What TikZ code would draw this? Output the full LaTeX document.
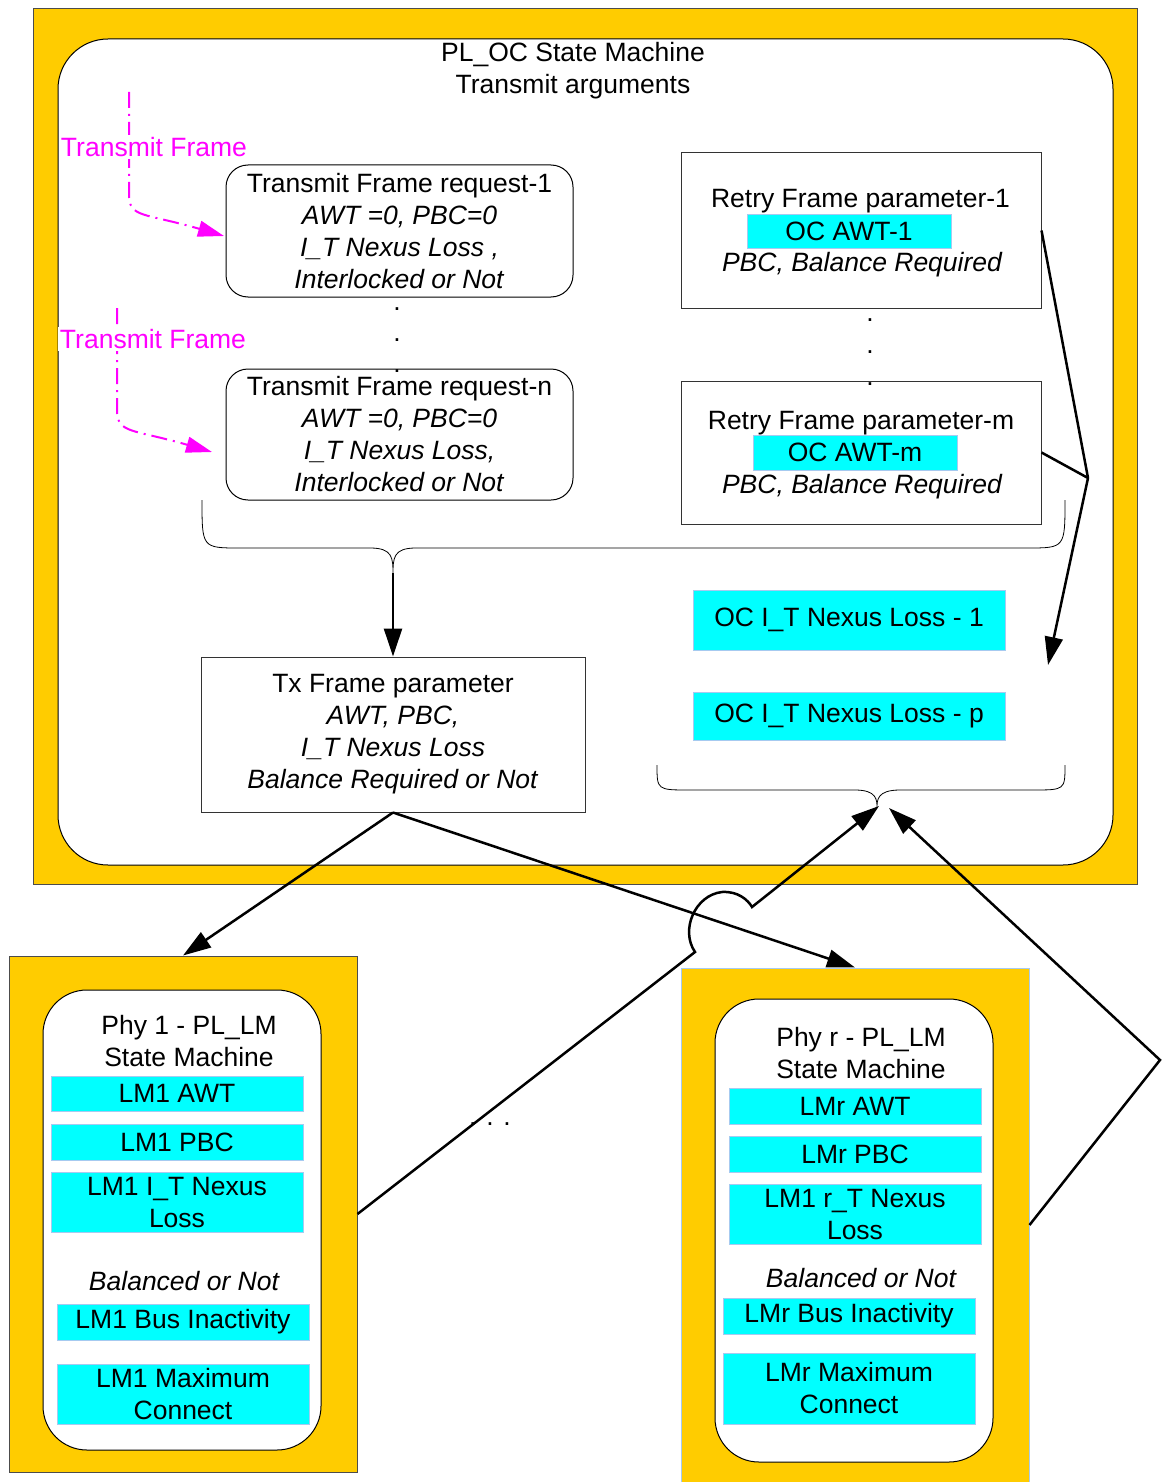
\documentclass[tikz,border=0pt]{standalone}
\usepackage{fontspec}
\setmainfont{Liberation Sans}
\usepackage{xcolor}
\usetikzlibrary{arrows.meta}
\definecolor{ocyellow}{HTML}{FFCC00}
\definecolor{occyan}{HTML}{00FFFF}
\definecolor{ocmagenta}{HTML}{FF00FF}
\definecolor{fieldedge}{HTML}{A6CAF0}
\newcommand{\ocfont}{\fontsize{26.5}{32}\selectfont}

\begin{document}
\begin{tikzpicture}[x=1pt,y=-1pt,font=\ocfont,
  panel/.style={draw=black!70,fill=ocyellow,line width=1pt,inner sep=0pt},
  machine/.style={draw,fill=white,rounded corners=#1,line width=1pt,inner sep=0pt},
  label text/.style={align=center,inner sep=0pt},
  req box/.style={draw,rounded corners=22pt,align=center,minimum width=347pt,line width=1pt,inner sep=0pt},
  param box/.style={draw=black!80,line width=1pt,align=center,inner sep=0pt},
  field/.style={fill=occyan,draw=fieldedge,line width=0.8pt,align=center,minimum width=252pt,minimum height=36pt,inner sep=0pt},
  tf line/.style={ocmagenta,line width=2pt,dash pattern=on 16pt off 6pt on 2pt off 6pt,-{Triangle[length=26pt,width=16pt]}},
  tf label/.style={text=ocmagenta,fill=white,inner sep=2pt},
  conn/.style={line width=2.5pt,-{Triangle[length=28pt,width=18pt]}},
  plain conn/.style={line width=2.5pt},
  brace/.style={line width=0.8pt}]

  \useasboundingbox (0,0) rectangle (1171,1482);

  \node[panel] (ocout) at (585,446.5) [minimum width=1104pt,minimum height=875pt] {};
  \node[machine=50pt] (ocin) at (585.5,452) [minimum width=1055pt,minimum height=826pt] {};
  \node[label text] (octitle) at (573,71) {PL\_OC State Machine\\Transmit arguments};

  \node[req box,minimum height=132pt] (req1) at (399.5,231) {Transmit Frame request-1\\\textit{AWT =0, PBC=0}\\\textit{I\_T Nexus Loss ,}\\\textit{Interlocked or Not}};
  \node[req box,minimum height=131pt] (reqn) at (399.5,434.5) {Transmit Frame request-n\\\textit{AWT =0, PBC=0}\\\textit{I\_T Nexus Loss,}\\\textit{Interlocked or Not}};
  \foreach \y [count=\i] in {309,340,371}
    \node[label text] (req dot\i) at (397,\y) {.};

  \node[param box,minimum width=360pt,minimum height=155pt] (retry1) at (861,230.5) {};
  \node[label text] (retry1 title) at (860.5,201) {Retry Frame parameter-1};
  \node[field,minimum width=204pt,minimum height=34pt] (awt1) at (849,231) {OC AWT-1};
  \node[label text] (retry1 note) at (862,265) {\itshape PBC, Balance Required};
  \foreach \y [count=\i] in {320,352,384}
    \node[label text] (retry dot\i) at (870,\y) {.};
  \node[param box,minimum width=360pt,minimum height=143pt] (retrym) at (861,452.5) {};
  \node[label text] (retrym title) at (861,423) {Retry Frame parameter-m};
  \node[field,minimum width=204pt,minimum height=35pt] (awtm) at (855,452.5) {OC AWT-m};
  \node[label text] (retrym note) at (862,487) {\itshape PBC, Balance Required};

  \node[param box,minimum width=384pt,minimum height=155pt] (txparam) at (393,734.5) {Tx Frame parameter\\\textit{AWT, PBC,}\\\textit{I\_T Nexus Loss}\\\textit{Balance Required or Not}};
  \node[field,minimum width=312pt,minimum height=60pt] (nexus1) at (849,620) {OC I\_T Nexus Loss - 1};
  \node[field,minimum width=312pt,minimum height=48pt] (nexusp) at (849,716) {OC I\_T Nexus Loss - p};

  \node[panel] (phy1out) at (183,1214) [minimum width=348pt,minimum height=516pt] {};
  \node[machine=44pt] (phy1in) at (182,1220) [minimum width=278pt,minimum height=460pt] {};
  \node[label text] (phy1 title) at (189,1041) {Phy 1 - PL\_LM\\State Machine};
  \node[field,minimum height=35pt] (lm1awt) at (177,1093.5) {LM1 AWT};
  \node[field] (lm1pbc) at (177,1142) {LM1 PBC};
  \node[field,minimum height=60pt] (lm1nexus) at (177,1202) {LM1 I\_T Nexus\\Loss};
  \node[label text] (phy1 bal) at (184,1281) {\itshape Balanced or Not};
  \node[field] (lm1bus) at (183,1322) {LM1 Bus Inactivity};
  \node[field,minimum height=60pt] (lm1max) at (183,1394) {LM1 Maximum\\Connect};

  \node[panel,draw=fieldedge] (phyrout) at (855,1225) [minimum width=348pt,minimum height=514pt] {};
  \node[machine=44pt] (phyrin) at (854,1230.5) [minimum width=278pt,minimum height=463pt] {};
  \node[label text] (phyr title) at (861,1053) {Phy r - PL\_LM\\State Machine};
  \node[field] (lmrawt) at (855,1106) {LMr AWT};
  \node[field] (lmrpbc) at (855,1154) {LMr PBC};
  \node[field,minimum height=60pt] (lmrnexus) at (855,1214) {LM1 r\_T Nexus\\Loss};
  \node[label text] (phyr bal) at (861,1278) {\itshape Balanced or Not};
  \node[field] (lmrbus) at (849,1316) {LMr Bus Inactivity};
  \node[field,minimum height=71pt] (lmrmax) at (849,1388.5) {LMr Maximum\\Connect};
  \node[label text] (phy dots) at (490,1124) {. . .};

  \draw[brace] (202,500) .. controls (202,548) .. (240,548) -- (370,548)
    .. controls (393,548) and (393,558) .. (393,575)
    .. controls (393,558) and (393,548) .. (416,548) -- (1027,548)
    .. controls (1065,548) .. (1065,500);
  \coordinate (brace1 tip) at (393,573);
  \draw[brace] (657,765) .. controls (657,790) .. (690,790) -- (855,790)
    .. controls (877,790) and (877,800) .. (877,808)
    .. controls (877,800) and (877,790) .. (900,790) -- (1032,790)
    .. controls (1065,790) .. (1065,765);
  \coordinate (tip left) at (879,806);
  \coordinate (tip right) at (889,808);

  \coordinate (tf1 start) at (129,92);
  \coordinate (tf1 bend) at (129,195);
  \coordinate (tf1 end) at (224,236);
  \coordinate (tf2 start) at (117,308);
  \coordinate (tf2 bend) at (117,410);
  \coordinate (tf2 end) at (212,452);
  \draw[tf line] (tf1 start) -- (tf1 bend) .. controls (129,218) and (145,213) .. (tf1 end);
  \draw[tf line] (tf2 start) -- (tf2 bend) .. controls (117,434) and (133,429) .. (tf2 end);
  \node[tf label] (tf1 label) at (154,147) {Transmit Frame};
  \node[tf label] (tf2 label) at (153,339) {Transmit Frame};

  \coordinate (join) at (1088,478);
  \coordinate (retry end) at (1048,665);
  \path (brace1 tip) edge[conn] (txparam.north)
    (retry1.east) edge[plain conn] (join)
    (retrym.east) edge[plain conn] (join)
    (join) edge[conn] (retry end)
    (txparam.south) edge[conn] (phy1out.north)
    edge[conn] (phyrout.north);

  \coordinate (jump start) at (695,952);
  \coordinate (jump end) at (752,907);
  \coordinate (turn) at (1160,1060);
  \draw[conn] (phy1out.east) -- (jump start)
    .. controls (680,930) and (695,895) .. (722,892)
    .. controls (738,891) and (748,900) .. (jump end) -- (tip left);
  \draw[conn] (phyrout.east) -- (turn) -- (tip right);
\end{tikzpicture}
\end{document}
